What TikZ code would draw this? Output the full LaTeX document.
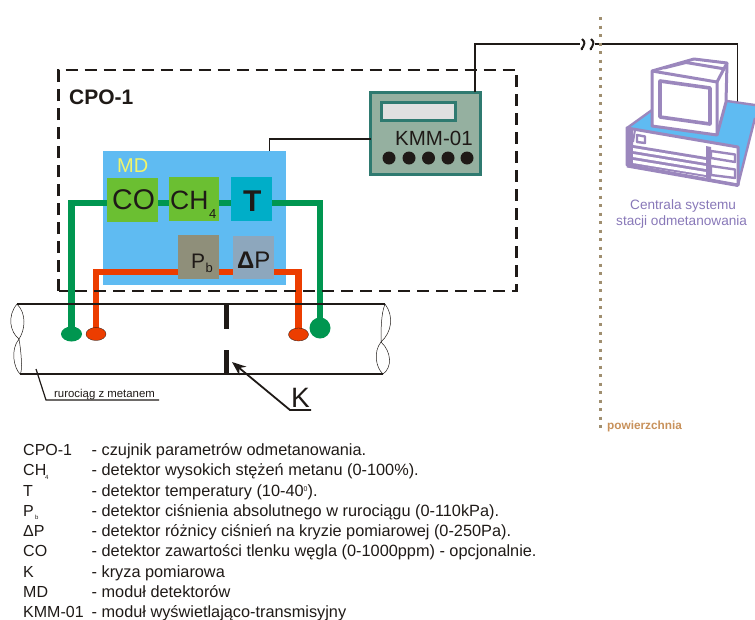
\documentclass[tikz,border=0pt]{standalone}
\usepackage{fontspec}
\setmainfont{Liberation Sans}
\usetikzlibrary{shapes.geometric,arrows.meta}
\pgfdeclarelayer{mdlayer}\pgfdeclarelayer{wires}
\pgfsetlayers{mdlayer,wires,main}
\definecolor{ink}{HTML}{1F1A17}
\definecolor{skyb}{HTML}{5FBBF2}
\definecolor{gwire}{HTML}{009650}
\definecolor{owire}{HTML}{EC3D00}
\definecolor{lgreen}{HTML}{6BBF32}
\definecolor{teal1}{HTML}{00AEC8}
\definecolor{pbg}{HTML}{8F8F7A}
\definecolor{dpg}{HTML}{8DA7BD}
\definecolor{kmmf}{HTML}{95B0A0}
\definecolor{kmmb}{HTML}{2F7A70}
\definecolor{purp}{HTML}{9B87BD}
\definecolor{purt}{HTML}{8878B8}
\definecolor{tan1}{HTML}{A08F70}
\definecolor{tan2}{HTML}{C8915A}
\definecolor{mdy}{HTML}{F2F56A}
\newcommand{\fs}[1]{\fontsize{#1}{#1}\selectfont}
\tikzset{
  box/.style={inner sep=0pt,outer sep=0pt,anchor=north west,text=ink},
  gw/.style={draw=gwire,line width=6.5pt},
  ow/.style={draw=owire,line width=6.5pt},
  thinw/.style={draw=ink,line width=1.8pt},
  cpo/.style={draw=ink,line width=2.4pt,dash pattern=on 12pt off 7pt},
  pipe/.style={draw=ink,line width=1.8pt},
  twist/.style={draw=ink,line width=0.5pt},
  pc/.style={draw=purp,line width=3pt,line join=round},
  pcw/.style={pc,fill=white},
  sl/.style={inner sep=0pt,anchor=base west,text=ink},
  lg/.style={sl,font=\fs{16}},
  ld/.style={sl,font=\fs{16.3}},
}
\newcommand{\dbox}[6]{\node[box,fill=#2,minimum width=#5pt,minimum height=#6pt] (#1) at (#3,#4) {};}
\begin{document}
\begin{tikzpicture}[x=1pt,y=-1pt]
\useasboundingbox (0,0) rectangle (755,619);
% detector module
\begin{pgfonlayer}{mdlayer}
\node[box,fill=skyb,minimum width=183pt,minimum height=134pt] (md) at (103,151) {};
\end{pgfonlayer}
\node[sl,text=mdy,font=\fs{20}] (mdt) at (117,172) {MD};
\dbox{co}{lgreen}{107}{178}{51}{44}
\dbox{chf}{lgreen}{169}{177}{50}{44}
\dbox{tt}{teal1}{231}{177}{41}{44}
\dbox{pb}{pbg}{178}{235}{41}{44}
\dbox{dp}{dpg}{233}{236}{41}{43}
\node[sl,font=\fs{28.5}] (cot) at (112,209) {CO};
\node[sl,font=\fs{26.5}] (cht) at (170,209) {CH};
\node[sl,font=\fs{13}] (cht4) at (209,218) {4};
\node[sl,font=\fs{30}\bfseries] (ttt) at (243,211) {T};
\node[sl,font=\fs{21}] (pbt) at (191,268) {P};
\node[sl,font=\fs{13}] (pbs) at (205.5,272) {b};
\node[sl,font=\fs{24}] (dpt) at (237,268) {\textbf{Δ}P};
% sensors
\node[ellipse,fill=gwire,minimum width=21pt,minimum height=15pt,inner sep=0pt] (g1) at (71.5,334) {};
\node[ellipse,fill=owire,draw=ink,line width=0.3pt,minimum width=20pt,minimum height=13pt,inner sep=0pt] (o1) at (96,334) {};
\node[ellipse,fill=owire,draw=ink,line width=0.3pt,minimum width=20pt,minimum height=13pt,inner sep=0pt] (o2) at (298.5,334.5) {};
\node[circle,fill=gwire,minimum size=21pt,inner sep=0pt] (g2) at (320,328) {};
\begin{pgfonlayer}{wires}
\draw[gw] (g1.center) |- (co.west |- 0,203);
\draw[gw] (co.east |- 0,203) -- (chf.west |- 0,203);
\draw[gw] (chf.east |- 0,203) -- (tt.west |- 0,203);
\draw[gw] (tt.east |- 0,203) -| (g2.center);
\draw[ow] (o1.center) |- (pb.west |- 0,272);
\draw[ow] (pb.east |- 0,272) -- (dp.west |- 0,272);
\draw[ow] (dp.east |- 0,272) -| (o2.center);
\end{pgfonlayer}
% CPO frame
\coordinate (f1) at (58.5,291);
\coordinate (f2) at (58.5,70);
\coordinate (f3) at (516.5,70);
\coordinate (f4) at (516.5,291);
\draw[cpo] (f1) -- (f2) -- (f3) -- (f4) -- cycle;
\node[sl,font=\fs{21}\bfseries] (cpol) at (69,104) {CPO-1};
% pipe
\coordinate (pa) at (17,304); \coordinate (pb1) at (385,304);
\coordinate (pc1) at (20,374); \coordinate (pd) at (383,374);
\draw[pipe] (pa) -- (pb1);
\draw[pipe] (pc1) -- (pd);
\draw[twist] (pa) .. controls (7,316) and (10,332) .. (19,339) .. controls (25,330) and (27,314) .. (pa);
\draw[twist] (19,339) .. controls (10,350) and (14,368) .. (pc1) .. controls (23,372) and (21,350) .. (19,339);
\draw[twist] (pb1) .. controls (394,316) and (392,332) .. (381,342) .. controls (381,330) and (381,314) .. (pb1);
\draw[twist] (381,342) .. controls (373,352) and (376,368) .. (pd) .. controls (392,368) and (392,352) .. (381,342);
% orifice
\coordinate (k1) at (226,305); \coordinate (k2) at (226,329);
\coordinate (k3) at (226,350); \coordinate (k4) at (226,374);
\draw[ink,line width=5pt] (k1) -- (k2);
\draw[ink,line width=5pt] (k3) -- (k4);
\node[sl,font=\fs{28}] (klab) at (291,407) {K};
\coordinate (karr) at (232,362);
\coordinate (kel) at (290,410);
\coordinate (ker) at (311,410);
\draw[ink,line width=1.8pt,-{Stealth[length=14pt,width=11pt]}] (ker) -- (kel) -- (karr);
% pipe label
\coordinate (ra) at (36,369); \coordinate (rb) at (46,400); \coordinate (rc) at (159,400);
\draw[ink,line width=1.2pt] (ra) -- (rb) -- (rc);
\node[sl,font=\fs{11.4}] (rlab) at (54,397) {rurociąg z metanem};
% KMM
\node[box,fill=kmmf,draw=kmmb,line width=2.2pt,minimum width=110pt,minimum height=82pt] (kmm) at (370.5,92.5) {};
\node[box,fill=black!12,draw=kmmb,line width=2.2pt,minimum width=74pt,minimum height=18pt] (disp) at (381.5,102.5) {};
\node[sl,font=\fs{20.5}] (kmmt) at (395,145) {KMM-01};
\foreach \xx/\nn in {389/a,409/b,428.5/c,448/d,467/e}
  \node[circle,fill=ink,minimum size=13pt,inner sep=0pt] (btn\nn) at (\xx,158) {};
% connections
\draw[thinw,line width=1.4pt] (md.north west -| 269.5,151) |- (kmm.west |- 0,139);
% computer
\fill[skyb] (627,128) -- (652,110) -- (727,101) -- (755,105) -- (755,118) -- (738,185) -- (738,147) -- cycle;
\coordinate (pcin) at (737.5,103);
\coordinate (brk1) at (580,44); \coordinate (brk2) at (595,44);
\coordinate (kmmt1) at (475,92);
\draw[thinw] (kmmt1) |- (brk1);
\draw[thinw] (brk2) -| (pcin);
\draw[ink,line width=2pt] (582,39) .. controls (586,42) and (584,45) .. (583,47) .. controls (582,48) and (581,49) .. (582,50);
\draw[ink,line width=2pt] (591,39) .. controls (595,42) and (593,45) .. (592,47) .. controls (591,48) and (590,49) .. (591,50);
% border line of blue top
\draw[purp,line width=2.4pt] (727,101) -- (755,105);
\draw[purp,line width=2.4pt] (755,118) -- (738,185);
\draw[purp,line width=2.4pt] (627,128) -- (652,110);
% base front
\draw[pcw] (627,128) -- (738,147) -- (738,185) -- (627,165) -- cycle;
\fill[purp] (627,128) -- (633,129) -- (633,166) -- (627,165) -- cycle;
\draw[purp,line width=2pt] (633,142) -- (635,130);
\fill[purp] (633,145) -- (706,157) -- (706,177) -- (633,165) -- cycle;
\fill[white] (633,148) -- (706,160) -- (706,163) -- (633,151) -- cycle;
\fill[white] (633,154) -- (706,166) -- (706,169) -- (633,157) -- cycle;
\fill[white] (633,160) -- (706,172) -- (706,175) -- (633,163) -- cycle;
\draw[pc,line width=2.4pt] (637,135) -- (645,136.5) -- (645,143) -- (637,142) -- cycle;
\fill[purp] (706,146) -- (711,147) -- (711,180) -- (706,179) -- cycle;
\draw[pc,line width=2.4pt] (711,151) -- (735,154.5) -- (735,162) -- (711,158) -- cycle;
\draw[pc,line width=2.4pt] (711,166) -- (735,169.5) -- (735,178) -- (711,175) -- cycle;
\draw[purp,line width=3pt] (627,166) -- (738,185.5);
% monitor
\draw[pcw] (652,71) -- (694,59) -- (727,63) -- (726,102) -- (717,135) -- (652,126) -- cycle;
\draw[pc] (652,71) -- (717,82) -- (717,135);
\draw[pc] (717,82) -- (727,63);
\draw[pc] (664,68) -- (686,62.5) -- (725,69);
\draw[pc,line width=3.6pt] (660,81) -- (710,88) -- (710,124) -- (660,117) -- cycle;
% dotted boundary
\coordinate (dt) at (600,17); \coordinate (db) at (600,432);
\draw[tan1,line width=3pt,dash pattern=on 3pt off 5.5pt] (dt) -- (db);
\node[sl,text=tan2,font=\fs{11.8}\bfseries] (pow) at (607,429) {powierzchnia};
\node[sl,text=purt,font=\fs{13.6}] (cent1) at (630,209) {Centrala systemu};
\node[sl,text=purt,font=\fs{13.6}] (cent2) at (616,225) {stacji odmetanowania};
% legend
\node[lg] (l1a) at (23,455) {CPO-1};    \node[ld] (l1b) at (91.5,455) {- czujnik parametrów odmetanowania.};
\node[lg] (l2a) at (23,475) {CH};  \node[sl,font=\fs{6}] (l2s) at (45,479) {4};
\node[ld] (l2b) at (91.5,475) {- detektor wysokich stężeń metanu (0-100\%).};
\node[lg] (l3a) at (23,496) {T};  \node[ld] (l3b) at (91.5,496) {- detektor temperatury (10-40\raisebox{5pt}{\fs{7}0}).};
\node[lg] (l4a) at (23,516) {P};  \node[sl,font=\fs{6}] (l4s) at (35,519) {b};
\node[ld] (l4b) at (91.5,516) {- detektor ciśnienia absolutnego w rurociągu (0-110kPa).};
\node[lg] (l5a) at (23,536) {ΔP}; \node[ld] (l5b) at (91.5,536) {- detektor różnicy ciśnień na kryzie pomiarowej (0-250Pa).};
\node[lg] (l6a) at (23,556) {CO}; \node[ld] (l6b) at (91.5,556) {- detektor zawartości tlenku węgla (0-1000ppm) - opcjonalnie.};
\node[lg] (l7a) at (23,577) {K};  \node[ld] (l7b) at (91.5,577) {- kryza pomiarowa};
\node[lg] (l8a) at (23,597) {MD}; \node[ld] (l8b) at (91.5,597) {- moduł detektorów};
\node[lg] (l9a) at (23,617) {KMM-01}; \node[ld] (l9b) at (91.5,617) {- moduł wyświetlająco-transmisyjny};
\end{tikzpicture}
\end{document}
